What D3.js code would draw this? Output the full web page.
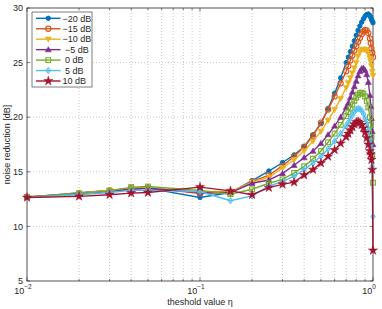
<html>
<head>
  <meta charset="utf-8">
  <script src="https://cdnjs.cloudflare.com/ajax/libs/d3/7.8.5/d3.min.js"></script>
  <style>
    body { margin: 0; background: #fff; }
    text { font-family: "Liberation Sans", Arial, sans-serif; fill: #262626; }
    .grid line { stroke: #c8c8c8; stroke-width: 1px; stroke-dasharray: 1,2; }
  </style>
</head>
<body>
  <svg id="chart" width="382" height="309"></svg>
  <script>
    // threshold values (x)
    var eta = [0.01,0.02,0.03,0.04,0.05,0.1,0.15,0.2,0.25,0.3,0.35,0.4,0.45,0.5,0.55,0.6,0.65,0.7,
               0.72,0.74,0.76,0.78,0.8,0.82,0.84,0.86,0.88,0.9,0.92,0.94,0.96,0.97,0.98,0.99,1.0];

    var labels = ["\u221220 dB","\u221215 dB","\u221210 dB","\u22125 dB","0 dB","5 dB","10 dB"];
    var colors = ["#0072BD","#D95319","#EDB120","#7E2F8E","#77AC30","#4DBEEE","#A2142F"];
    var markers = ["dot","circle","tridown","triup","square","diamond","star"];

    var snrM20 = [12.65,13.08,13.3,13.45,13.5,12.65,13.1,14.2,15.07,15.85,16.55,17.3,18.4,19.4,20.8,22.2,23.6,25.0,
                  25.5,26.0,26.5,27.0,27.5,27.95,28.35,28.7,29.0,29.25,29.4,29.45,29.3,29.15,28.95,28.8,28.65];
    var snrM15 = [12.7,13.05,13.3,13.5,13.55,13.0,13.1,14.1,14.7,15.55,16.4,17.3,18.3,19.5,20.7,21.9,23.1,24.2,
                  24.7,25.2,25.65,26.1,26.5,26.9,27.25,27.6,27.85,28.0,27.95,27.7,27.2,26.8,26.3,25.9,25.5];
    var snrM10 = [12.7,13.05,13.3,13.5,13.55,13.2,13.2,14.05,14.5,15.35,16.1,16.9,17.8,18.7,19.7,20.7,21.7,22.7,
                  23.15,23.6,24.05,24.5,25.0,25.6,26.0,26.2,26.2,26.2,26.1,25.8,25.4,25.1,24.7,24.2,23.8];
    var snrM5  = [12.7,13.0,13.2,13.4,13.5,13.1,13.1,13.95,14.25,14.85,15.6,16.3,16.9,17.6,18.4,19.2,20.0,20.9,
                  21.3,21.8,22.3,22.8,23.3,23.8,24.2,24.45,24.5,24.3,23.9,23.2,22.0,21.0,19.9,18.7,17.5];
    var snr0   = [12.7,13.0,13.25,13.6,13.65,13.3,12.95,13.4,13.95,14.3,14.9,15.5,16.2,16.9,17.7,18.5,19.3,20.1,
                  20.45,20.8,21.15,21.5,21.8,22.05,22.2,22.25,22.15,21.9,21.5,20.9,20.0,19.3,18.2,16.5,14.0];
    var snr5   = [12.65,12.9,13.1,13.3,13.3,13.2,12.35,12.8,13.7,14.1,14.6,15.2,15.8,16.4,17.1,17.8,18.5,19.2,
                  19.5,19.9,20.2,20.5,20.7,20.8,20.75,20.6,20.3,19.9,19.4,18.8,18.0,17.5,16.8,15.5,10.9];
    var snr10  = [12.65,12.75,12.9,13.05,13.1,13.6,13.25,12.9,13.55,13.85,14.05,14.7,15.2,15.8,16.4,17.0,17.6,18.2,
                  18.5,18.8,19.1,19.35,19.55,19.6,19.5,19.3,19.0,18.6,18.1,17.5,16.9,16.6,16.1,15.2,7.8];

    var series = [snrM20,snrM15,snrM10,snrM5,snr0,snr5,snr10];

    var yTicks = [5,10,15,20,25,30];
    var xMajor = [0.01,0.1,1];
    var xExp = ["\u22122","\u22121","0"];

    var margin = {left:27, top:8, right:9, bottom:28};
    var W = 382, H = 309;
    var svg = d3.select("#chart");

    var x = d3.scaleLog().domain([0.01,1]).range([margin.left, W-margin.right]);
    var y = d3.scaleLinear().domain([5,30]).range([H-margin.bottom, margin.top]);

    var xMinor = [];
    [0.01,0.1].forEach(function(d){ for (var k=2;k<=9;k++) xMinor.push(d*k); });

    // grid
    var g = svg.append("g").attr("class","grid");
    g.selectAll("line.v").data(xMinor.concat([0.1])).enter().append("line")
      .attr("x1",d=>x(d)).attr("x2",d=>x(d)).attr("y1",y(5)).attr("y2",y(30));
    g.selectAll("line.h").data(yTicks.slice(1,-1)).enter().append("line")
      .attr("x1",x(0.01)).attr("x2",x(1)).attr("y1",d=>y(d)).attr("y2",d=>y(d));

    // box
    svg.append("rect").attr("x",x(0.01)).attr("y",y(30))
      .attr("width",x(1)-x(0.01)).attr("height",y(5)-y(30))
      .attr("fill","none").attr("stroke","#262626").attr("stroke-width",0.8);

    // ticks (inward)
    var tk = svg.append("g").attr("stroke","#262626").attr("stroke-width",0.6);
    tk.selectAll("line.yt").data(yTicks).enter().append("line")
      .attr("x1",x(0.01)).attr("x2",x(0.01)+3).attr("y1",d=>y(d)).attr("y2",d=>y(d));
    tk.selectAll("line.yt2").data(yTicks).enter().append("line")
      .attr("x1",x(1)).attr("x2",x(1)-3).attr("y1",d=>y(d)).attr("y2",d=>y(d));
    tk.selectAll("line.xt").data(xMajor).enter().append("line")
      .attr("x1",d=>x(d)).attr("x2",d=>x(d)).attr("y1",y(5)).attr("y2",y(5)-3.5);
    tk.selectAll("line.xm").data(xMinor).enter().append("line")
      .attr("x1",d=>x(d)).attr("x2",d=>x(d)).attr("y1",y(5)).attr("y2",y(5)-2);
    tk.selectAll("line.xt2").data(xMajor).enter().append("line")
      .attr("x1",d=>x(d)).attr("x2",d=>x(d)).attr("y1",y(30)).attr("y2",y(30)+3.5);
    tk.selectAll("line.xm2").data(xMinor).enter().append("line")
      .attr("x1",d=>x(d)).attr("x2",d=>x(d)).attr("y1",y(30)).attr("y2",y(30)+2);

    // tick labels
    svg.append("g").selectAll("text").data(yTicks).enter().append("text")
      .attr("x",x(0.01)-4).attr("y",d=>y(d)+3.2).attr("text-anchor","end")
      .style("font-size","9px").text(d=>d);

    var xl = svg.append("g").selectAll("text").data(xMajor).enter().append("text")
      .attr("x",(d,i)=>x(d)-4).attr("y",y(5)+13).attr("text-anchor","middle")
      .style("font-size","9px");
    xl.append("tspan").text("10");
    xl.append("tspan").attr("dy",-5).style("font-size","6.5px").text((d,i)=>xExp[i]);

    // axis labels
    svg.append("text").attr("x",(x(0.01)+x(1))/2).attr("y",H-4).attr("text-anchor","middle")
      .style("font-size","9px").text("theshold value \u03b7");
    svg.append("text").attr("transform","translate(10,"+((y(5)+y(30))/2)+") rotate(-90)")
      .attr("text-anchor","middle").style("font-size","9px").text("noise reduction [dB]");

    // marker drawing
    function drawMarker(sel, type, color) {
      var s;
      if (type==="dot") {
        sel.append("circle").attr("r",2.2).attr("fill",color).attr("stroke",color);
      } else if (type==="circle") {
        sel.append("circle").attr("r",2.6).attr("fill","none").attr("stroke",color).attr("stroke-width",1.1);
      } else if (type==="tridown") {
        sel.append("path").attr("d","M-3,-2.2L3,-2.2L0,3Z").attr("fill",color).attr("stroke",color).attr("stroke-width",0.6);
      } else if (type==="triup") {
        sel.append("path").attr("d","M-3,2.2L3,2.2L0,-3Z").attr("fill",color).attr("stroke",color).attr("stroke-width",0.6);
      } else if (type==="square") {
        sel.append("rect").attr("x",-2.4).attr("y",-2.4).attr("width",4.8).attr("height",4.8)
          .attr("fill","none").attr("stroke",color).attr("stroke-width",1.1);
      } else if (type==="diamond") {
        sel.append("path").attr("d","M0,-3.2L2.3,0L0,3.2L-2.3,0Z").attr("fill",color).attr("fill-opacity",0.5)
          .attr("stroke",color).attr("stroke-width",0.9);
      } else if (type==="star") {
        s = d3.symbol().type(d3.symbolStar).size(26);
        sel.append("path").attr("d",s()).attr("fill",color).attr("stroke",color).attr("stroke-width",0.5);
      }
    }

    var line = d3.line().x(d=>x(d[0])).y(d=>y(d[1]));

    series.forEach(function(vals,i){
      var pts = eta.map((e,j)=>[e,vals[j]]);
      var sg = svg.append("g");
      sg.append("path").datum(pts).attr("d",line).attr("fill","none")
        .attr("stroke",colors[i]).attr("stroke-width",1.4);
      sg.selectAll("g").data(pts).enter().append("g")
        .attr("transform",d=>"translate("+x(d[0])+","+y(d[1])+")")
        .each(function(){ drawMarker(d3.select(this), markers[i], colors[i]); });
    });

    // legend
    var lg = svg.append("g");
    lg.append("rect").attr("x",32).attr("y",12).attr("width",60).attr("height",75)
      .attr("fill","#fff").attr("stroke","#262626").attr("stroke-width",0.6);
    labels.forEach(function(lab,i){
      var yy = 18.3 + i*10.45;
      lg.append("line").attr("x1",36).attr("x2",60.5).attr("y1",yy).attr("y2",yy)
        .attr("stroke",colors[i]).attr("stroke-width",1.4);
      var mg = lg.append("g").attr("transform","translate(48.3,"+yy+")");
      drawMarker(mg, markers[i], colors[i]);
      lg.append("text").attr("x",i>=3 && i<=5 ? 65 : 62.5).attr("y",yy+3.2)
        .style("font-size","9px").text(lab);
    });
  </script>
</body>
</html>
